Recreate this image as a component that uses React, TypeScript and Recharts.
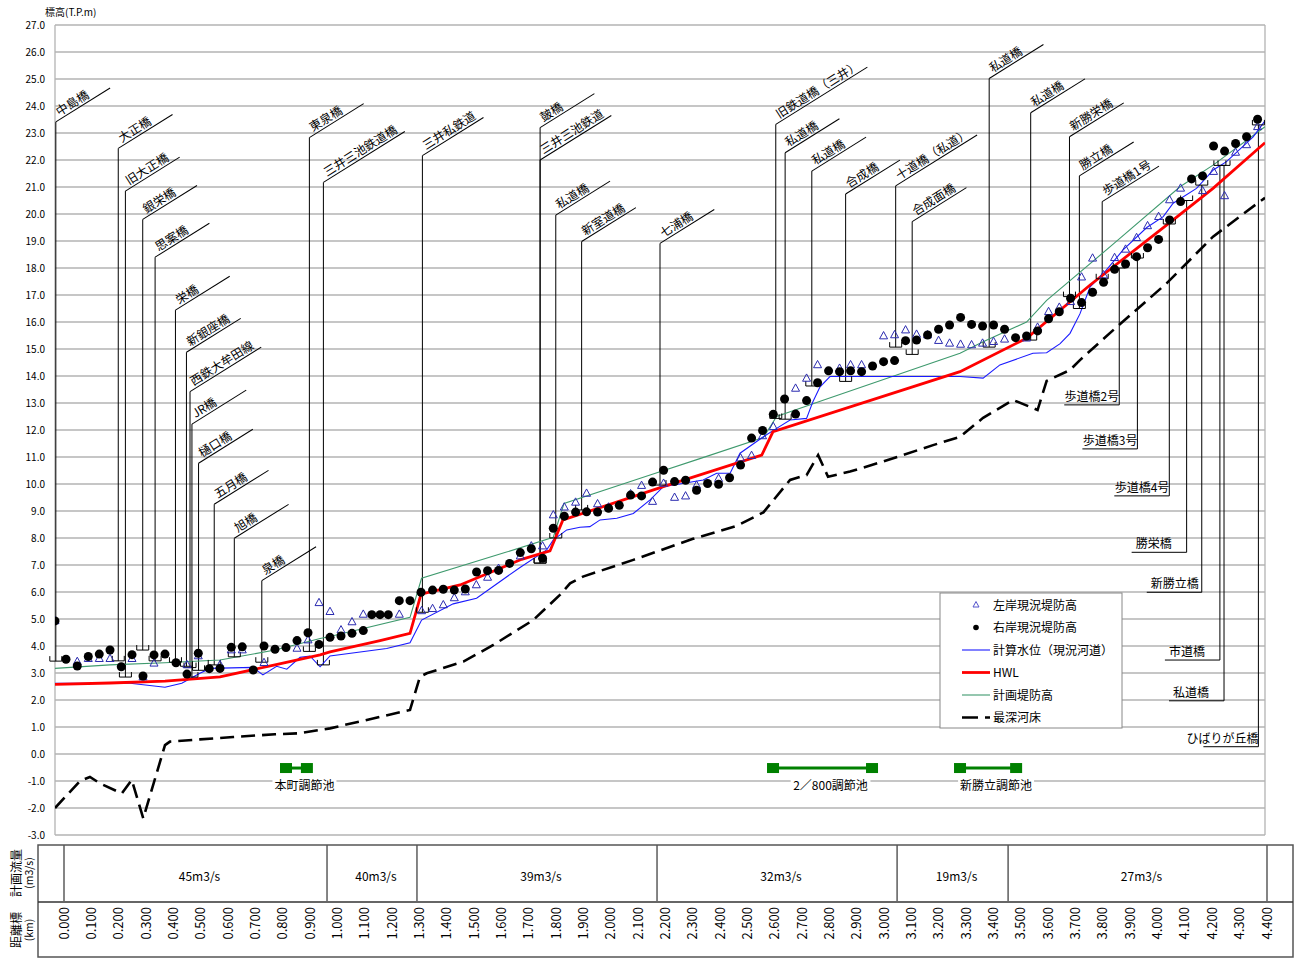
import React from 'react';
import { ComposedChart, Line, Scatter, XAxis, YAxis, CartesianGrid, ReferenceLine, ReferenceDot } from 'recharts';

const FONT = '"Noto Sans CJK JP", "Noto Sans", sans-serif';

type Pt = [number, number];

// 右岸現況堤防高 [km, T.P.m]
const rightBankLevee: Pt[] = [
  [0.000, 4.93], [0.040, 3.51], [0.081, 3.26], [0.121, 3.61], [0.161, 3.70], [0.200, 3.85], [0.241, 3.23], [0.280, 3.68],
  [0.320, 2.89], [0.360, 3.67], [0.400, 3.70], [0.440, 3.38], [0.480, 2.96], [0.521, 3.73], [0.561, 3.16], [0.600, 3.17],
  [0.641, 3.95], [0.681, 3.97], [0.721, 3.11], [0.760, 4.00], [0.800, 3.88], [0.840, 3.94], [0.880, 4.20], [0.920, 4.49],
  [0.960, 4.06], [1.000, 4.32], [1.040, 4.37], [1.080, 4.47], [1.121, 4.57], [1.152, 5.16], [1.182, 5.16], [1.212, 5.16],
  [1.252, 5.68], [1.291, 5.68], [1.331, 5.99], [1.373, 6.07], [1.412, 6.10], [1.452, 6.07], [1.492, 6.11], [1.533, 6.74],
  [1.573, 6.79], [1.613, 6.80], [1.653, 7.06], [1.692, 7.46], [1.732, 7.60], [1.773, 7.25], [1.812, 8.36], [1.852, 8.81],
  [1.893, 8.96], [1.933, 8.97], [1.973, 8.96], [2.013, 9.10], [2.052, 9.21], [2.093, 9.59], [2.133, 9.56], [2.173, 10.07],
  [2.213, 10.51], [2.253, 10.09], [2.293, 10.14], [2.333, 9.77], [2.373, 10.02], [2.413, 9.99], [2.453, 10.23], [2.493, 10.70],
  [2.533, 11.70], [2.573, 11.98], [2.612, 12.58], [2.653, 13.15], [2.693, 12.59], [2.733, 13.09], [2.773, 13.75], [2.813, 14.19],
  [2.853, 14.16], [2.893, 14.19], [2.933, 14.16], [2.973, 14.37], [3.013, 14.53], [3.053, 14.57], [3.093, 15.31], [3.133, 15.33],
  [3.173, 15.52], [3.213, 15.73], [3.253, 15.89], [3.293, 16.17], [3.333, 15.91], [3.373, 15.85], [3.413, 15.89], [3.453, 15.73],
  [3.493, 15.42], [3.533, 15.48], [3.573, 15.67], [3.613, 16.12], [3.652, 16.38], [3.693, 16.88], [3.733, 16.72], [3.773, 17.10],
  [3.813, 17.47], [3.853, 17.95], [3.893, 18.15], [3.933, 18.42], [3.973, 18.75], [4.013, 19.06], [4.053, 19.78], [4.093, 20.46],
  [4.133, 21.30], [4.173, 21.41], [4.213, 22.52], [4.253, 22.33], [4.293, 22.61], [4.333, 22.86], [4.373, 23.51],
];

// 左岸現況堤防高 [km, T.P.m]
const leftBankLevee: Pt[] = [
  [0.000, 4.93], [0.081, 3.42], [0.121, 3.53], [0.161, 3.53], [0.200, 3.53], [0.280, 3.53], [0.320, 2.85], [0.360, 3.36],
  [0.480, 3.30], [0.521, 3.63], [0.600, 3.30], [0.641, 3.85], [0.681, 3.85], [0.760, 3.38], [0.880, 3.91], [0.920, 4.22],
  [0.960, 5.60], [1.000, 5.27], [1.040, 4.59], [1.080, 4.89], [1.121, 5.17], [1.252, 5.17], [1.333, 5.30], [1.373, 5.38],
  [1.412, 5.52], [1.452, 5.78], [1.492, 6.00], [1.532, 6.26], [1.573, 6.54], [1.613, 6.87], [1.692, 7.33], [1.732, 7.70],
  [1.773, 7.70], [1.812, 8.85], [1.852, 9.14], [1.893, 9.32], [1.933, 9.65], [1.973, 9.26], [2.013, 9.14], [2.093, 9.63],
  [2.133, 9.94], [2.173, 9.35], [2.213, 10.02], [2.253, 9.50], [2.293, 9.55], [2.333, 9.95], [2.413, 10.20], [2.493, 10.96],
  [2.533, 11.05], [2.573, 11.78], [2.612, 12.12], [2.693, 13.54], [2.733, 13.91], [2.773, 14.41], [2.853, 14.28], [2.893, 14.41],
  [2.933, 14.41], [3.013, 15.48], [3.053, 15.52], [3.093, 15.70], [3.133, 15.54], [3.173, 15.52], [3.213, 15.31], [3.253, 15.21],
  [3.293, 15.17], [3.333, 15.15], [3.373, 15.21], [3.413, 15.27], [3.453, 15.36], [3.533, 15.40], [3.573, 15.80], [3.613, 16.38],
  [3.652, 16.54], [3.693, 16.75], [3.733, 17.66], [3.773, 18.36], [3.813, 17.74], [3.853, 18.38], [3.893, 18.69], [3.933, 19.12],
  [3.973, 19.56], [4.013, 19.90], [4.053, 20.52], [4.093, 20.95], [4.173, 20.86], [4.213, 21.57], [4.253, 20.67], [4.293, 22.28],
  [4.333, 22.56], [4.373, 23.23],
];

// 計算水位（現況河道）
const calcWaterLevel: Pt[] = [
  [0.000, 2.62], [0.273, 2.62], [0.400, 2.47], [0.461, 2.62], [0.527, 2.99], [0.564, 3.17], [0.720, 3.21], [0.756, 2.93],
  [0.806, 3.25], [0.843, 3.14], [0.891, 3.58], [0.927, 3.63], [0.964, 3.23], [1.000, 3.63], [1.206, 3.91], [1.291, 4.12],
  [1.333, 4.96], [1.448, 5.56], [1.533, 5.77], [1.691, 6.91], [1.788, 7.56], [1.812, 7.93], [1.861, 8.30], [1.909, 8.40],
  [1.945, 8.42], [1.982, 8.67], [2.043, 8.73], [2.103, 8.91], [2.164, 9.41], [2.212, 9.90], [2.357, 10.15], [2.406, 10.40],
  [2.455, 10.40], [2.491, 11.14], [2.576, 11.75], [2.624, 12.06], [2.673, 12.37], [2.733, 12.43], [2.756, 13.05], [2.782, 13.60],
  [2.818, 13.98], [3.291, 13.98], [3.375, 13.92], [3.436, 14.41], [3.556, 14.84], [3.606, 14.86], [3.655, 15.20], [3.691, 15.58],
  [3.727, 16.30], [3.764, 17.30], [3.813, 17.80], [3.884, 18.67], [3.970, 19.50], [4.030, 19.90], [4.066, 20.40], [4.151, 20.95],
  [4.212, 21.63], [4.260, 21.94], [4.357, 22.86], [4.400, 23.45],
];

// HWL
const hwl: Pt[] = [
  [0.000, 2.58], [0.200, 2.63], [0.400, 2.70], [0.600, 2.86], [0.800, 3.30], [0.964, 3.67], [1.000, 3.78], [1.182, 4.20],
  [1.291, 4.47], [1.331, 5.92], [1.473, 6.26], [1.697, 7.21], [1.800, 7.52], [1.847, 8.67], [2.212, 9.90], [2.570, 11.07],
  [2.611, 11.94], [3.291, 14.16], [3.533, 15.40], [3.764, 17.37], [4.042, 19.59], [4.211, 20.95], [4.400, 22.64],
];

// 計画堤防高
const planLevee: Pt[] = [
  [0.000, 3.17], [0.200, 3.30], [0.400, 3.38], [0.600, 3.48], [0.800, 3.85], [0.964, 4.28], [1.000, 4.35], [1.291, 5.06],
  [1.333, 6.51], [1.636, 7.46], [1.812, 8.03], [1.851, 9.28], [2.164, 10.33], [2.345, 10.94], [2.576, 11.72], [2.624, 12.50],
  [2.793, 13.10], [3.291, 14.84], [3.375, 15.27], [3.533, 16.00], [3.606, 16.80], [3.851, 18.91], [4.091, 21.01], [4.211, 21.81],
  [4.400, 23.23],
];

// 最深河床
const deepestBed: Pt[] = [
  [0.000, -2.00], [0.091, -1.00], [0.127, -0.85], [0.164, -1.09], [0.243, -1.46], [0.279, -0.96], [0.321, -2.38], [0.400, 0.33],
  [0.418, 0.46], [0.527, 0.54], [0.648, 0.63], [0.800, 0.73], [0.891, 0.77], [1.000, 0.95], [1.291, 1.63], [1.327, 2.86],
  [1.352, 2.99], [1.485, 3.42], [1.594, 4.04], [1.739, 4.96], [1.836, 5.89], [1.873, 6.32], [1.920, 6.57], [2.103, 7.19],
  [2.320, 7.97], [2.479, 8.45], [2.576, 8.95], [2.673, 10.15], [2.733, 10.33], [2.775, 11.07], [2.811, 10.27], [2.891, 10.46],
  [3.011, 10.83], [3.193, 11.44], [3.291, 11.75], [3.375, 12.45], [3.484, 13.11], [3.545, 12.86], [3.573, 12.74], [3.606, 13.82],
  [3.691, 14.22], [3.727, 14.59], [3.848, 15.70], [4.042, 17.43], [4.091, 17.93], [4.211, 19.16], [4.373, 20.40], [4.400, 20.60],
];

// bridges labelled above: [name, km, label elevation, girder elevation]
const upperBridges: [string, number, number, number][] = [
  ['中島橋', 0.003, 23.41, 3.44], ['大正橋', 0.230, 22.43, 3.45], ['旧大正橋', 0.256, 20.85, 2.85],
  ['銀栄橋', 0.319, 19.80, 3.85], ['思案橋', 0.364, 18.40, 3.45], ['栄橋', 0.438, 16.44, 3.40],
  ['新銀座橋', 0.478, 14.88, 3.25], ['西鉄大牟田線', 0.491, 13.42, 3.20], ['JR橋', 0.498, 12.22, 2.85],
  ['樋口橋', 0.522, 10.77, 3.10], ['五月橋', 0.579, 9.25, 3.30], ['旭橋', 0.652, 7.99, 3.60],
  ['泉橋', 0.752, 6.42, 3.40], ['東泉橋', 0.925, 22.83, 3.80], ['三井三池鉄道橋', 0.976, 21.17, 3.30],
  ['三井私鉄道', 1.336, 22.16, 5.25], ['皷橋', 1.764, 23.20, 7.07], ['三井三池鉄道', 1.764, 22.00, 7.07],
  ['私道橋', 1.821, 19.96, 8.00], ['新室道橋', 1.915, 18.98, 9.04], ['七浦橋', 2.200, 18.91, 9.96],
  ['旧鉄道橋（三井）', 2.621, 23.32, 12.43], ['私道橋', 2.655, 22.27, 12.40], ['私道橋', 2.752, 21.59, 13.63],
  ['合成橋', 2.875, 20.74, 13.80], ['十道橋（私道）', 3.057, 21.04, 15.07], ['合成面橋', 3.117, 19.72, 14.80],
  ['私道橋', 3.397, 25.02, 15.07], ['私道橋', 3.548, 23.75, 15.33], ['新勝栄橋', 3.689, 22.86, 16.94],
  ['勝立橋', 3.725, 21.41, 16.50], ['歩道橋1号', 3.808, 20.46, 17.60],
];

// bridges labelled below: [name, km, girder elevation, label elevation]
const lowerBridges: [string, number, number, number][] = [
  ['歩道橋2号', 3.870, 18.00, 12.93], ['歩道橋3号', 3.936, 18.37, 11.30], ['歩道橋4号', 4.052, 19.63, 9.56],
  ['勝栄橋', 4.115, 20.50, 7.47], ['新勝立橋', 4.170, 21.07, 5.99], ['市道橋', 4.236, 21.80, 3.48],
  ['私道橋', 4.251, 21.80, 1.97], ['ひばりが丘橋', 4.376, 23.30, 0.27],
];

// 調節池: [name, start km, end km, elevation]
const ponds: [string, number, number, number][] = [
  ['本町調節池', 0.840, 0.916, -0.52],
  ['2／800調節池', 2.611, 2.971, -0.52],
  ['新勝立調節池', 3.291, 3.495, -0.52],
];

// 計画流量
const flowBounds = [0, 0.962, 1.291, 2.169, 3.047, 3.453, 4.4];
const flowLabels = ['45m3/s', '40m3/s', '39m3/s', '32m3/s', '19m3/s', '27m3/s'];

// 距離標
const distanceLabels = [
  '0.000', '0.100', '0.200', '0.300', '0.400', '0.500', '0.600', '0.700', '0.800', '0.900', '1.000', '1.100', '1.200',
  '1.300', '1.400', '1.500', '1.600', '1.700', '1.800', '1.900', '2.000', '2.100', '2.200', '2.300', '2.400', '2.500',
  '2.600', '2.700', '2.800', '2.900', '3.000', '3.100', '3.200', '3.300', '3.400', '3.500', '3.600', '3.700', '3.800',
  '3.900', '4.000', '4.100', '4.200', '4.300', '4.400',
];

const xGridTicks = [0, 0.2, 0.4, 0.6, 0.8, 1.0, 1.2, 1.4, 1.6, 1.8, 2.0, 2.2, 2.4, 2.6, 2.8, 3.0, 3.2, 3.4, 3.6, 3.8, 4.0, 4.2, 4.4];
const yTicks = [-3, -2, -1, 0, 1, 2, 3, 4, 5, 6, 7, 8, 9, 10, 11, 12, 13, 14, 15, 16, 17, 18, 19, 20, 21, 22, 23, 24, 25, 26, 27];

const legendLabels = ['左岸現況堤防高', '右岸現況堤防高', '計算水位（現況河道）', 'HWL', '計画堤防高', '最深河床'];

const toPts = (a: Pt[]) => a.map(([x, y]) => ({ x, y }));

const textW = (s: string, fs: number) =>
  Array.from(s).reduce((w, c) => w + (c.charCodeAt(0) > 0x2e80 ? fs : fs * 0.58), 0);

const Triangle = (p: any) => {
  const { cx, cy } = p;
  if (cx == null || cy == null) return <g />;
  return <polygon points={`${cx},${cy - 4.5} ${cx - 4},${cy + 2.8} ${cx + 4},${cy + 2.8}`} fill="none" stroke="#2b2bb0" strokeWidth={1} />;
};

const Dot = (p: any) => {
  const { cx, cy } = p;
  if (cx == null || cy == null) return <g />;
  return <circle cx={cx} cy={cy} r={4.5} fill="#000" />;
};

const UpperLabel = ({ cx, cy, name }: any) => {
  const fs = 12;
  const w = textW(name, fs);
  const len = Math.max(64, w + 12);
  return (
    <g transform={`translate(${cx},${cy}) rotate(-32)`}>
      <line x1={0} y1={0} x2={len} y2={0} stroke="#000" strokeWidth={1} />
      <text x={6} y={-3} fontSize={fs} fontFamily={FONT} fill="#000">{name}</text>
    </g>
  );
};

const LowerLabel = ({ cx, cy, name }: any) => {
  const fs = 12;
  const w = textW(name, fs);
  const fits = w <= 52;
  return (
    <g>
      <line x1={cx - 55} y1={cy} x2={cx} y2={cy} stroke="#000" strokeWidth={1} />
      <text x={fits ? cx - 51 : cx} y={cy - 4} textAnchor={fits ? 'start' : 'end'} fontSize={fs} fontFamily={FONT} fill="#000">{name}</text>
    </g>
  );
};

const Bracket = ({ cx, cy }: any) => (
  <path d={`M${cx - 6},${cy - 5}V${cy}H${cx + 6}V${cy - 5}`} fill="none" stroke="#000" strokeWidth={1} />
);

const PondEnd = ({ cx, cy }: any) => <rect x={cx - 6} y={cy - 5} width={12} height={10} fill="#008000" />;

const PondLabel = ({ cx, cy, name }: any) => {
  const fs = 12;
  const w = textW(name, fs);
  return (
    <g>
      <rect x={cx + 8 - w / 2 - 2} y={cy + 10} width={w + 4} height={16} fill="#fff" />
      <text x={cx + 8} y={cy + 22} textAnchor="middle" fontSize={fs} fontFamily={FONT} fill="#000">{name}</text>
    </g>
  );
};

const MainChart = () => (
  <ComposedChart width={1296} height={850} margin={{ top: 25, right: 31, bottom: 15, left: 10 }}>
    <CartesianGrid stroke="#b3b3b3" strokeWidth={1.3} />
    <XAxis type="number" dataKey="x" domain={[0, 4.4]} ticks={xGridTicks} tick={false} axisLine={false} tickLine={false} height={0} allowDataOverflow />
    <YAxis
      type="number"
      dataKey="y"
      domain={[-3, 27]}
      ticks={yTicks}
      width={45}
      axisLine={false}
      tickLine={false}
      tickSize={0}
      tickMargin={10}
      tickFormatter={(v: number) => v.toFixed(1)}
      tick={{ fontSize: 10, fill: '#000', fontFamily: FONT }}
      allowDataOverflow
      interval={0}
    />

    {upperBridges.map((b, i) => (
      <ReferenceLine key={`ul${i}`} segment={[{ x: b[1], y: b[3] }, { x: b[1], y: b[2] }]} stroke="#000" strokeWidth={1} />
    ))}
    {lowerBridges.map((b, i) => (
      <ReferenceLine key={`ll${i}`} segment={[{ x: b[1], y: b[2] }, { x: b[1], y: b[3] }]} stroke="#000" strokeWidth={1} />
    ))}
    {upperBridges.map((b, i) => (
      <ReferenceDot key={`ub${i}`} x={b[1]} y={b[3]} r={1} shape={(p: any) => <Bracket cx={p.cx} cy={p.cy} />} />
    ))}
    {lowerBridges.map((b, i) => (
      <ReferenceDot key={`lb${i}`} x={b[1]} y={b[2]} r={1} shape={(p: any) => <Bracket cx={p.cx} cy={p.cy} />} />
    ))}
    {upperBridges.map((b, i) => (
      <ReferenceDot key={`ut${i}`} x={b[1]} y={b[2]} r={1} shape={(p: any) => <UpperLabel cx={p.cx} cy={p.cy} name={b[0]} />} />
    ))}
    {lowerBridges.map((b, i) => (
      <ReferenceDot key={`lt${i}`} x={b[1]} y={b[3]} r={1} shape={(p: any) => <LowerLabel cx={p.cx} cy={p.cy} name={b[0]} />} />
    ))}

    {ponds.map((p, i) => (
      <ReferenceLine key={`pl${i}`} segment={[{ x: p[1], y: p[3] }, { x: p[2], y: p[3] }]} stroke="#008000" strokeWidth={3} />
    ))}
    {ponds.map((p, i) => (
      <ReferenceDot key={`ps${i}`} x={p[1]} y={p[3]} r={1} shape={(q: any) => <PondEnd cx={q.cx} cy={q.cy} />} />
    ))}
    {ponds.map((p, i) => (
      <ReferenceDot key={`pe${i}`} x={p[2]} y={p[3]} r={1} shape={(q: any) => <PondEnd cx={q.cx} cy={q.cy} />} />
    ))}
    {ponds.map((p, i) => (
      <ReferenceDot key={`pt${i}`} x={(p[1] + p[2]) / 2} y={p[3]} r={1} shape={(q: any) => <PondLabel cx={q.cx} cy={q.cy} name={p[0]} />} />
    ))}

    <Line data={toPts(deepestBed)} dataKey="y" type="linear" stroke="#000" strokeWidth={2.6} strokeDasharray="14 7" dot={false} isAnimationActive={false} />
    <Line data={toPts(planLevee)} dataKey="y" type="linear" stroke="#3f9a6e" strokeWidth={1.1} dot={false} isAnimationActive={false} />
    <Line data={toPts(calcWaterLevel)} dataKey="y" type="linear" stroke="#1a1aff" strokeWidth={1.1} dot={false} isAnimationActive={false} />
    <Line data={toPts(hwl)} dataKey="y" type="linear" stroke="#ff0000" strokeWidth={2.8} dot={false} isAnimationActive={false} />
    <Scatter data={toPts(leftBankLevee)} dataKey="y" shape={Triangle} isAnimationActive={false} />
    <Scatter data={toPts(rightBankLevee)} dataKey="y" shape={Dot} isAnimationActive={false} />
  </ComposedChart>
);

const TableChart = () => (
  <ComposedChart width={1296} height={118} margin={{ top: 5, right: 29, bottom: 1, left: 64 }}>
    <XAxis type="number" dataKey="x" domain={[0, 4.4]} hide allowDataOverflow />
    <YAxis type="number" dataKey="y" domain={[0, 2]} hide allowDataOverflow />
    <Line data={[{ x: 0, y: 0 }, { x: 4.4, y: 0 }]} dataKey="y" stroke="none" dot={false} isAnimationActive={false} />
    {flowBounds.map((b, i) => (
      <ReferenceLine key={`fb${i}`} segment={[{ x: b, y: 1 }, { x: b, y: 2 }]} stroke="#333" strokeWidth={1.2} />
    ))}
    {flowLabels.map((l, i) => (
      <ReferenceDot
        key={`fl${i}`}
        x={(flowBounds[i] + flowBounds[i + 1]) / 2}
        y={1.5}
        r={1}
        shape={(p: any) => (
          <text x={p.cx + 4} y={p.cy + 8} textAnchor="middle" fontSize={12} fontFamily={FONT} fill="#000">{l}</text>
        )}
      />
    ))}
    {distanceLabels.map((l, i) => (
      <ReferenceDot
        key={`dl${i}`}
        x={parseFloat(l)}
        y={1}
        r={1}
        shape={(p: any) => (
          <text transform={`translate(${p.cx + 4.5},${p.cy + 6}) rotate(-90)`} textAnchor="end" fontSize={13} fontFamily={FONT} fill="#000">{l}</text>
        )}
      />
    ))}
  </ComposedChart>
);

const Frame = () => (
  <svg width={1296} height={958} style={{ position: 'absolute', left: 0, top: 0, pointerEvents: 'none' }}>
    <text x={45} y={16} fontSize={10} fontFamily={FONT} fill="#000">標高(T.P.m)</text>
    <rect x={38} y={845} width={1255} height={112} fill="none" stroke="#555" strokeWidth={1.5} />
    <line x1={38} y1={902} x2={1293} y2={902} stroke="#333" strokeWidth={1.5} />
    <text transform="translate(15,873) rotate(-90)" textAnchor="middle" dominantBaseline="central" fontSize={12} fontFamily={FONT}>計画流量</text>
    <text transform="translate(28,873) rotate(-90)" textAnchor="middle" dominantBaseline="central" fontSize={10.5} fontFamily={FONT}>(m3/s)</text>
    <text transform="translate(15,930) rotate(-90)" textAnchor="middle" dominantBaseline="central" fontSize={12} fontFamily={FONT}>距離標</text>
    <text transform="translate(28,930) rotate(-90)" textAnchor="middle" dominantBaseline="central" fontSize={10.5} fontFamily={FONT}>(km)</text>
  </svg>
);

const LegendBox = () => (
  <svg width={184} height={137} style={{ position: 'absolute', left: 939, top: 592 }}>
    <rect x={1} y={1} width={182} height={135} fill="#fff" stroke="#888" strokeWidth={1} />
    {legendLabels.map((l, i) => {
      const cy = 13 + i * 22.5;
      let sym: React.ReactNode = null;
      if (i === 0) sym = <polygon points={`${37},${cy - 3.5} ${34},${cy + 2} ${40},${cy + 2}`} fill="none" stroke="#5555cc" strokeWidth={1} />;
      if (i === 1) sym = <circle cx={37} cy={cy} r={2.8} fill="#000" />;
      if (i === 2) sym = <line x1={23} y1={cy} x2={51} y2={cy} stroke="#1a1aff" strokeWidth={1.1} />;
      if (i === 3) sym = <line x1={23} y1={cy} x2={51} y2={cy} stroke="#ff0000" strokeWidth={2.8} />;
      if (i === 4) sym = <line x1={23} y1={cy} x2={51} y2={cy} stroke="#3f9a6e" strokeWidth={1.1} />;
      if (i === 5) sym = <line x1={23} y1={cy} x2={51} y2={cy} stroke="#000" strokeWidth={2.6} strokeDasharray="16 7" />;
      return (
        <g key={l}>
          {sym}
          <text x={54} y={cy + 4.5} fontSize={12} fontFamily={FONT} fill="#000">{l}</text>
        </g>
      );
    })}
  </svg>
);

export default function App() {
  return (
    <div style={{ position: 'absolute', left: 0, top: 0, width: 1296, height: 958, background: '#fff', overflow: 'hidden' }}>
      <div style={{ position: 'absolute', left: 0, top: 0 }}>
        <MainChart />
      </div>
      <div style={{ position: 'absolute', left: 0, top: 840 }}>
        <TableChart />
      </div>
      <Frame />
      <LegendBox />
    </div>
  );
}
